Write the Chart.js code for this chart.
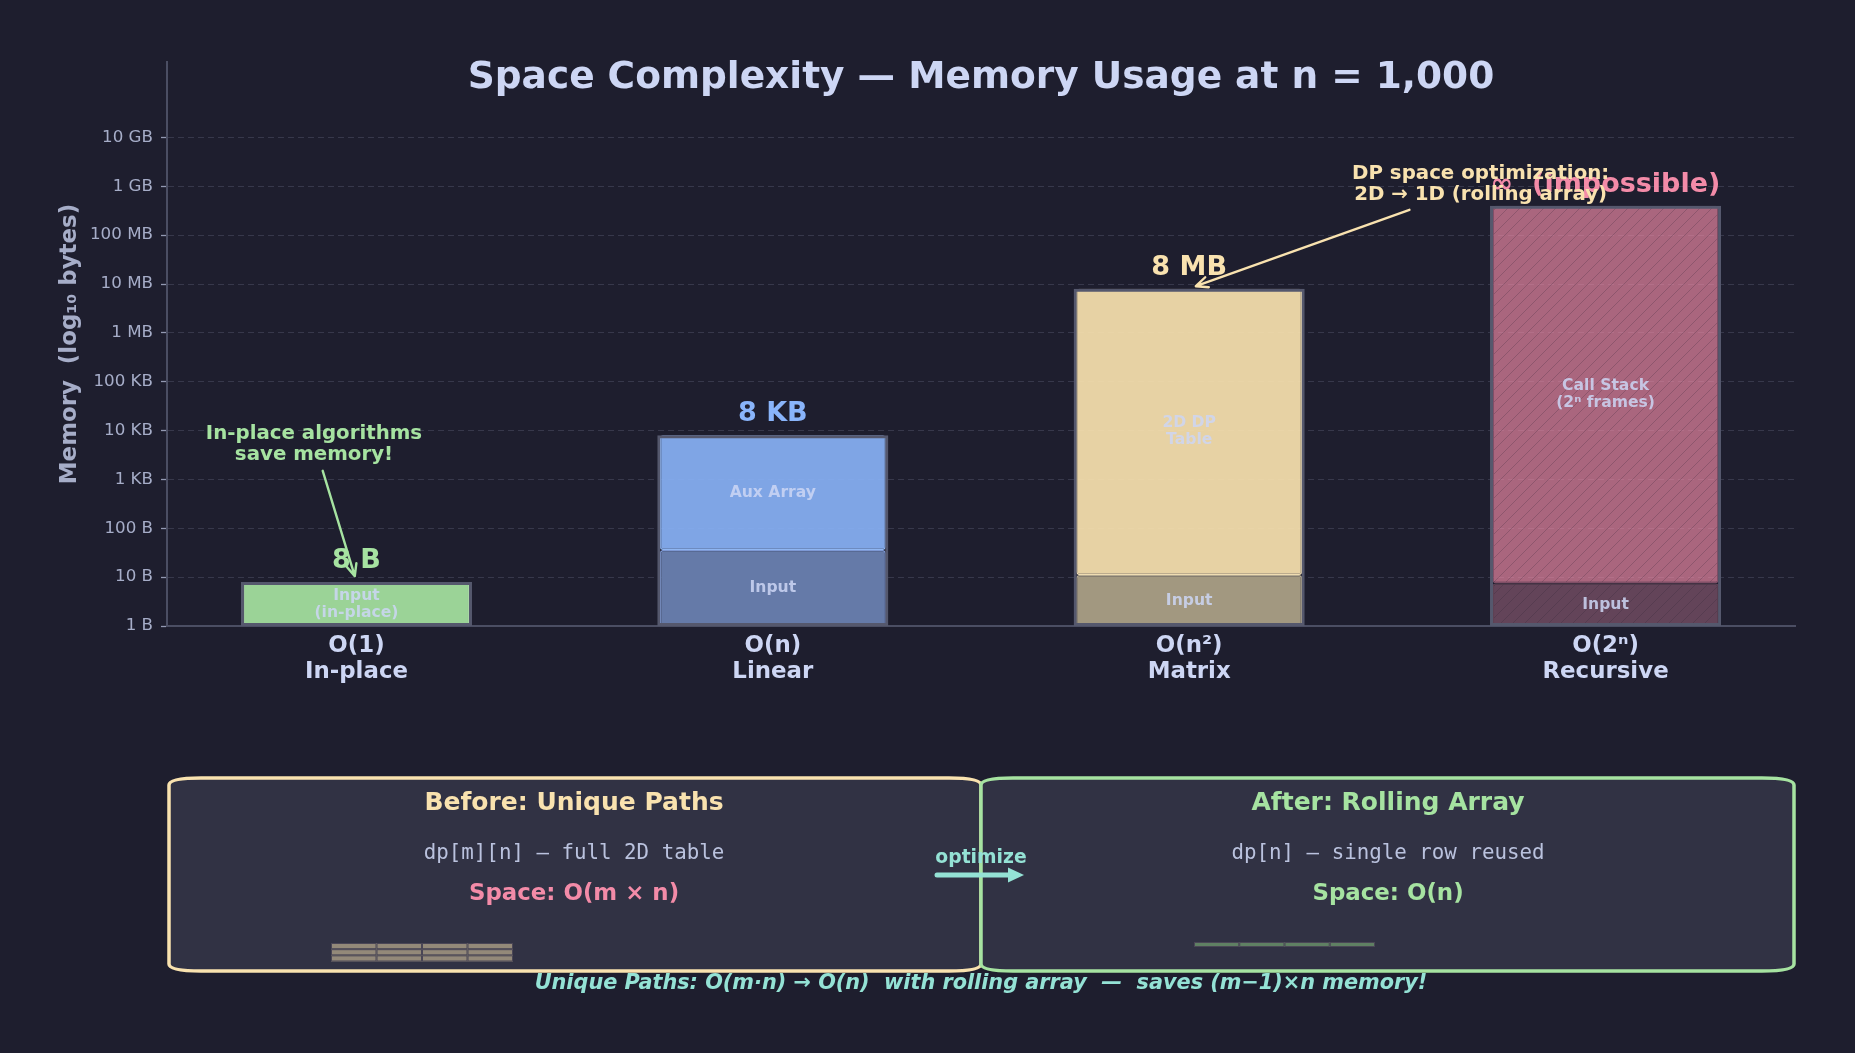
<!DOCTYPE html>
<html>
<head>
<meta charset="utf-8">
<script src="https://cdn.jsdelivr.net/npm/chart.js@4.4.1/dist/chart.umd.min.js"></script>
<style>
  html, body { margin: 0; padding: 0; background: #1e1e2e; }
  #chart { display: block; }
</style>
</head>
<body>
<canvas id="chart" width="1855" height="1053"></canvas>
<script>
// --- data ---
const categoryTicks = [['O(1)', 'In-place'], ['O(n)', 'Linear'], ['O(n²)', 'Matrix'], ['O(2ⁿ)', 'Recursive']];
const totalBytes = [8, 8000, 8e6, 4e8];
const inputBytes = [8, 36, 11, 7.5];
const valueLabels = ['8 B', '8 KB', '8 MB', '∞  (impossible)'];
const inputNames = ['Input\n(in-place)', 'Input', 'Input', 'Input'];
const upperNames = ['', 'Aux Array', '2D DP\nTable', 'Call Stack\n(2ⁿ frames)'];
const yTickValues = [1, 10, 100, 1e3, 1e4, 1e5, 1e6, 1e7, 1e8, 1e9, 1e10];
const yTickLabels = ['1 B', '10 B', '100 B', '1 KB', '10 KB', '100 KB', '1 MB', '10 MB', '100 MB', '1 GB', '10 GB'];

// palette
const C = {
  bg: '#1e1e2e', surface: '#313244', text: '#cdd6f4', sub: '#a6adc8', mono: '#bac2de',
  green: '#a6e3a1', blue: '#89b4fa', yellow: '#f9e2af', pink: '#f38ba8', teal: '#94e2d5',
  grid: 'rgba(69,71,90,0.65)', spine: '#4b4e63', frame: '#55586d'
};
const accent = [C.green, C.blue, C.yellow, C.pink];
const FONT = '"DejaVu Sans", sans-serif';
const MONO = '"DejaVu Sans Mono", monospace';

function hatch(base) {
  const c = document.createElement('canvas');
  c.width = 12; c.height = 12;
  const g = c.getContext('2d');
  g.fillStyle = base;
  g.fillRect(0, 0, 12, 12);
  g.strokeStyle = 'rgba(40,32,52,0.22)';
  g.lineWidth = 1;
  g.beginPath();
  g.moveTo(0, 12); g.lineTo(12, 0);
  g.moveTo(-6, 6); g.lineTo(6, -6);
  g.moveTo(6, 18); g.lineTo(18, 6);
  g.stroke();
  return g.createPattern(c, 'repeat');
}

const upperFill = [null, 'rgba(137,180,250,0.9)', 'rgba(249,226,175,0.92)', hatch('rgba(243,139,168,0.66)')];
const upperEdge = [null, '#8fb6f2', '#efdcb2', 'rgba(170,100,128,0.7)'];
const inputFill = ['rgba(166,227,161,0.92)', '#657aa8', '#a29880', hatch('#634459')];
const inputEdge = ['rgba(186,238,180,0.9)', '#7d98d4', '#b3a88f', 'rgba(120,80,100,0.7)'];

const frameData = totalBytes.map((t, i) => ({ x: i, y: [1, t] }));
const inputData = inputBytes.map((v, i) => ({ x: i, y: [1, v] }));
const upperData = totalBytes
  .map((t, i) => ({ x: i, y: [inputBytes[i], t] }))
  .filter(d => d.y[0] < d.y[1]);

const pick = (arr, fallback) => ctx => (ctx.raw ? arr[ctx.raw.x] : fallback);

function drawText(ctx, str, x, y, font, color, lineGap, align) {
  ctx.save();
  ctx.font = font;
  ctx.fillStyle = color;
  ctx.textAlign = align || 'center';
  ctx.textBaseline = 'middle';
  const lines = str.split('\n');
  const gap = lineGap || 0;
  lines.forEach((ln, k) => ctx.fillText(ln, x, y + (k - (lines.length - 1) / 2) * gap));
  ctx.restore();
}

function arrow(ctx, x1, y1, x2, y2, color, lw, head) {
  const a = Math.atan2(y2 - y1, x2 - x1);
  ctx.save();
  ctx.strokeStyle = color;
  ctx.lineWidth = lw;
  ctx.lineCap = 'round';
  ctx.lineJoin = 'round';
  ctx.beginPath();
  ctx.moveTo(x1, y1); ctx.lineTo(x2, y2);
  ctx.moveTo(x2 - head * Math.cos(a - 0.42), y2 - head * Math.sin(a - 0.42));
  ctx.lineTo(x2, y2);
  ctx.lineTo(x2 - head * Math.cos(a + 0.42), y2 - head * Math.sin(a + 0.42));
  ctx.stroke();
  ctx.restore();
}

function panel(ctx, x, y, w, h, stroke) {
  const rx = 32, ry = 7;
  ctx.save();
  ctx.beginPath();
  ctx.moveTo(x + rx, y);
  ctx.lineTo(x + w - rx, y);
  ctx.quadraticCurveTo(x + w, y, x + w, y + ry);
  ctx.lineTo(x + w, y + h - ry);
  ctx.quadraticCurveTo(x + w, y + h, x + w - rx, y + h);
  ctx.lineTo(x + rx, y + h);
  ctx.quadraticCurveTo(x, y + h, x, y + h - ry);
  ctx.lineTo(x, y + ry);
  ctx.quadraticCurveTo(x, y, x + rx, y);
  ctx.closePath();
  ctx.fillStyle = C.surface;
  ctx.fill();
  ctx.lineWidth = 3.5;
  ctx.strokeStyle = stroke;
  ctx.stroke();
  ctx.restore();
}

function cells(ctx, x, y, w, h, cols, rows, fill) {
  ctx.save();
  const cw = w / cols, ch = h / rows;
  for (let r = 0; r < rows; r++) {
    for (let c = 0; c < cols; c++) {
      ctx.fillStyle = fill;
      ctx.fillRect(x + c * cw, y + r * ch, cw, ch);
      ctx.strokeStyle = '#4a4656';
      ctx.lineWidth = 1;
      ctx.strokeRect(x + c * cw + 0.5, y + r * ch + 0.5, cw - 1, ch - 1);
    }
  }
  ctx.restore();
}

const overlay = {
  id: 'overlay',
  beforeDraw(chart) {
    const ctx = chart.ctx;
    ctx.save();
    ctx.fillStyle = C.bg;
    ctx.fillRect(0, 0, chart.width, chart.height);
    ctx.restore();
  },
  afterDraw(chart) {
    const ctx = chart.ctx;
    const xs = chart.scales.x, ys = chart.scales.y;
    const area = chart.chartArea;
    const mid = (area.left + area.right) / 2;

    // title
    ctx.save();
    ctx.font = 'bold 37.5px ' + FONT;
    ctx.fillStyle = C.text;
    ctx.textAlign = 'center';
    ctx.textBaseline = 'alphabetic';
    ctx.fillText('Space Complexity — Memory Usage at n = 1,000', mid, 88);
    ctx.restore();

    // y axis title
    ctx.save();
    ctx.translate(70, (area.top + area.bottom) / 2);
    ctx.rotate(-Math.PI / 2);
    drawText(ctx, 'Memory  (log₁₀ bytes)', 0, 0, 'bold 22.9px ' + FONT, C.sub);
    ctx.restore();

    // labels inside bars + value labels
    const segFont = 'bold 15.6px ' + FONT;
    const segColor = 'rgba(205,214,244,0.85)';
    totalBytes.forEach((t, i) => {
      const cx = xs.getPixelForValue(i);
      const yBase = ys.getPixelForValue(1);
      const yIn = ys.getPixelForValue(inputBytes[i]);
      const yTop = ys.getPixelForValue(t);
      drawText(ctx, inputNames[i], cx, (yBase + yIn) / 2, segFont, segColor, 17);
      if (upperNames[i]) drawText(ctx, upperNames[i], cx, (yIn + yTop) / 2, segFont, segColor, 17);
      drawText(ctx, valueLabels[i], cx, yTop - 21, 'bold 27px ' + FONT, accent[i]);
    });

    // annotation: in-place
    const annFont = 'bold 19.8px ' + FONT;
    drawText(ctx, 'In-place algorithms\nsave memory!', xs.getPixelForValue(-0.102), ys.getPixelForValue(5.2e3),
      annFont, C.green, 21.6);
    arrow(ctx, xs.getPixelForValue(-0.081), ys.getPixelForValue(1.5e3),
      xs.getPixelForValue(-0.004), ys.getPixelForValue(10.5), C.green, 2.4, 13);

    // annotation: dp optimisation
    drawText(ctx, 'DP space optimization:\n2D → 1D (rolling array)', xs.getPixelForValue(2.70), ys.getPixelForValue(1.1e9),
      annFont, C.yellow, 21.6);
    arrow(ctx, xs.getPixelForValue(2.529), ys.getPixelForValue(3.3e8),
      xs.getPixelForValue(2.016), ys.getPixelForValue(9e6), C.yellow, 2.4, 13);

    // bottom comparison panels
    const top = 778, h = 193;
    const split = mid;
    panel(ctx, area.left + 2, top, split - area.left - 2, h, C.yellow);
    panel(ctx, split, top, area.right - 1 - split, h, C.green);
    const lx = (area.left + split) / 2, rx = (split + area.right) / 2;
    drawText(ctx, 'Before: Unique Paths', lx, 803, 'bold 25px ' + FONT, C.yellow);
    drawText(ctx, 'dp[m][n] — full 2D table', lx, 854, '20.8px ' + MONO, C.mono);
    drawText(ctx, 'Space: O(m × n)', lx, 894, 'bold 22.9px ' + FONT, C.pink);
    cells(ctx, 331, 943, 182, 18.5, 4, 3, '#938979');
    drawText(ctx, 'After: Rolling Array', rx, 803, 'bold 25px ' + FONT, C.green);
    drawText(ctx, 'dp[n] — single row reused', rx, 854, '20.8px ' + MONO, C.mono);
    drawText(ctx, 'Space: O(n)', rx, 894, 'bold 22.9px ' + FONT, C.green);
    cells(ctx, 1194, 942, 181, 5, 4, 1, '#5f8063');

    // optimise arrow
    ctx.save();
    ctx.strokeStyle = C.teal;
    ctx.fillStyle = C.teal;
    ctx.lineWidth = 5;
    ctx.lineCap = 'round';
    ctx.beginPath();
    ctx.moveTo(937, 875); ctx.lineTo(1010, 875);
    ctx.stroke();
    ctx.beginPath();
    ctx.moveTo(1024, 875); ctx.lineTo(1008, 867.5); ctx.lineTo(1008, 882.5);
    ctx.closePath();
    ctx.fill();
    ctx.restore();
    drawText(ctx, 'optimize', split, 858, 'bold 18.75px ' + FONT, C.teal);

    // footer
    drawText(ctx, 'Unique Paths: O(m·n) → O(n)  with rolling array  —  saves (m−1)×n memory!', split, 984,
      'italic bold 20.8px ' + FONT, C.teal);
  }
};

const chart = new Chart(document.getElementById('chart'), {
  type: 'bar',
  data: {
    datasets: [
      {
        label: 'Total', data: frameData, order: 0, grouped: false,
        barPercentage: 0.555, categoryPercentage: 1,
        backgroundColor: 'rgba(0,0,0,0)',
        borderColor: C.frame, borderWidth: 3, borderSkipped: false
      },
      {
        label: 'Input', data: inputData, order: 1, grouped: false,
        barPercentage: 0.543, categoryPercentage: 1,
        backgroundColor: pick(inputFill, C.blue), borderColor: pick(inputEdge, C.blue),
        borderWidth: 1.5, borderRadius: 3, borderSkipped: false
      },
      {
        label: 'Working memory', data: upperData, order: 2, grouped: false,
        barPercentage: 0.543, categoryPercentage: 1,
        backgroundColor: pick(upperFill, C.blue), borderColor: pick(upperEdge, C.blue),
        borderWidth: 1.5, borderRadius: 3, borderSkipped: false
      }
    ]
  },
  options: {
    responsive: false,
    devicePixelRatio: 1,
    animation: false,
    layout: { padding: { top: 62, right: 60, bottom: 367, left: 0 } },
    plugins: { legend: { display: false }, tooltip: { enabled: false } },
    scales: {
      x: {
        type: 'linear',
        min: -0.455,
        max: 3.455,
        offset: false,
        afterFit: s => { s.height = 60; },
        afterBuildTicks: s => { s.ticks = categoryTicks.map((_, i) => ({ value: i })); },
        grid: { display: true, drawOnChartArea: false, drawTicks: false, offset: false },
        border: { display: true, color: C.spine, width: 2 },
        ticks: {
          padding: 7.5,
          color: C.text,
          maxRotation: 0,
          autoSkip: false,
          font: { family: 'DejaVu Sans', size: 22.9, weight: 'bold', lineHeight: 1.12 },
          callback: (v, i) => categoryTicks[i]
        }
      },
      y: {
        type: 'logarithmic',
        min: 1,
        max: 3.5e11,
        afterFit: s => { s.width = 167; },
        afterBuildTicks: s => { s.ticks = yTickValues.map(v => ({ value: v })); },
        grid: {
          color: C.grid, lineWidth: 1,
          tickColor: '#9399b2', tickLength: 6, tickWidth: 1.3, tickBorderDash: []
        },
        border: { display: true, color: C.spine, width: 2, dash: [6, 4] },
        ticks: {
          padding: 8,
          color: C.sub,
          autoSkip: false,
          font: { family: 'DejaVu Sans', size: 16.7 },
          callback: (v, i) => yTickLabels[i]
        }
      }
    }
  },
  plugins: [overlay]
});
</script>
</body>
</html>
